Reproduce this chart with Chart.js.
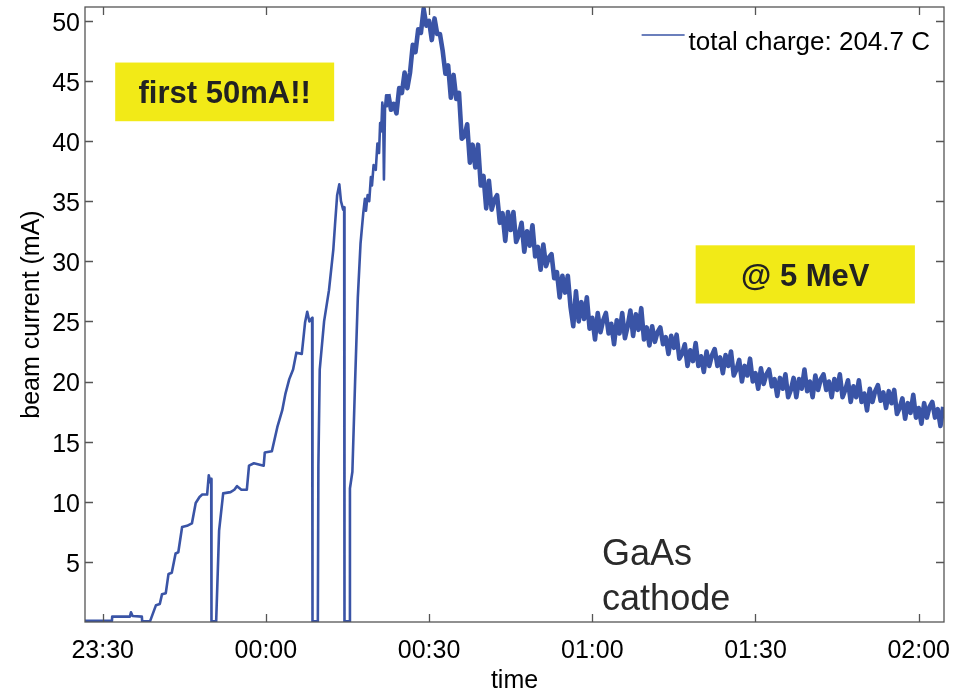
<!DOCTYPE html>
<html>
<head>
<meta charset="utf-8">
<script src="https://cdn.jsdelivr.net/npm/chart.js@4.4.1/dist/chart.umd.min.js"></script>
<style>
  html, body { margin: 0; padding: 0; background: #fff; }
  #wrap { width: 963px; height: 692px; }
</style>
</head>
<body>
<div id="wrap"><canvas id="beamChart" width="963" height="692"></canvas></div>
<script>
// time is minutes after midnight (negative = before 00:00), current in mA
const riseTimes = [-33.25, -28.3, -28.25, -25.0, -24.8, -24.5, -22.8, -22.74, -21.3, -20.2,
  -19.5, -19.1, -18.4, -17.9, -17.3, -16.6, -16.1, -15.4, -14.5, -13.6,
  -12.9, -12.2, -11.7, -10.8, -10.5, -10.2, -10.05, -10.0, -9.14, -8.6,
  -7.85, -6.5, -5.8, -5.3, -4.5, -3.5, -3.1, -2.2, -0.4, -0.2,
  1.1, 2.1, 3.0, 3.6, 4.3, 5.0, 5.6, 6.6, 7.2, 7.6,
  8.0, 8.5, 8.57, 9.55, 9.65, 9.9, 10.7, 11.6, 12.4, 12.7,
  13.1, 13.5, 13.8, 14.2, 14.39, 14.45, 15.4, 15.45, 15.9, 16.4,
  16.9, 17.4, 17.9, 18.2, 18.4, 18.7, 19.0, 19.3, 19.5, 19.8,
  20.2, 20.5, 20.8, 21.0, 21.2, 21.4, 21.55, 21.7, 21.9, 22.1,
  22.3];
const riseCurrent = [0.1, 0.1, 0.45, 0.45, 0.8, 0.5, 0.45, 0.05, 0.05, 1.4,
  1.5, 2.3, 2.4, 4.0, 4.1, 5.7, 5.8, 7.9, 8.0, 8.2,
  9.9, 10.4, 10.6, 10.6, 12.2, 11.6, 11.9, 0.05, 0.05, 7.6,
  10.7, 10.8, 11.0, 11.3, 11.0, 11.0, 13.0, 13.2, 13.0, 14.1,
  14.2, 16.2, 17.6, 19.0, 20.2, 21.0, 22.4, 22.3, 24.9, 25.8,
  25.0, 25.3, 0.05, 0.05, 13.0, 21.0, 25.0, 27.6, 31.0, 33.0,
  35.5, 36.4, 35.0, 34.3, 34.5, 0.05, 0.05, 11.1, 12.5, 20.0,
  27.0, 31.5, 34.0, 35.2, 34.2, 35.5, 35.0, 37.0, 36.3, 38.0,
  37.6, 39.8, 39.0, 41.5, 40.8, 43.2, 42.6, 36.8, 42.8, 43.8,
  42.9];

const decayTimes = [22.5, 23, 23.5, 24, 24.5, 25, 25.5, 26, 26.5, 27,
  27.5, 28, 28.5, 29, 29.5, 30, 30.5, 31, 31.5, 32,
  32.5, 33, 33.5, 34, 34.5, 35, 35.5, 36, 36.5, 37,
  37.5, 38, 38.5, 39, 39.5, 40, 40.5, 41, 41.5, 42,
  42.5, 43, 43.5, 44, 44.5, 45, 45.5, 46, 46.5, 47,
  47.5, 48, 48.5, 49, 49.5, 50, 50.5, 51, 51.5, 52,
  52.5, 53, 53.5, 54, 54.5, 55, 55.5, 56, 56.5, 57,
  57.5, 58, 58.5, 59, 59.5, 60, 60.5, 61, 61.5, 62,
  62.5, 63, 63.5, 64, 64.5, 65, 65.5, 66, 66.5, 67,
  67.5, 68, 68.5, 69, 69.5, 70, 70.5, 71, 71.5, 72,
  72.5, 73, 73.5, 74, 74.5, 75, 75.5, 76, 76.5, 77,
  77.5, 78, 78.5, 79, 79.5, 80, 80.5, 81, 81.5, 82,
  82.5, 83, 83.5, 84, 84.5, 85, 85.5, 86, 86.5, 87,
  87.5, 88, 88.5, 89, 89.5, 90, 90.5, 91, 91.5, 92,
  92.5, 93, 93.5, 94, 94.5, 95, 95.5, 96, 96.5, 97,
  97.5, 98, 98.5, 99, 99.5, 100, 100.5, 101, 101.5, 102,
  102.5, 103, 103.5, 104, 104.5, 105, 105.5, 106, 106.5, 107,
  107.5, 108, 108.5, 109, 109.5, 110, 110.5, 111, 111.5, 112,
  112.5, 113, 113.5, 114, 114.5, 115, 115.5, 116, 116.5, 117,
  117.5, 118, 118.5, 119, 119.5, 120, 120.5, 121, 121.5, 122,
  122.5, 123, 123.5, 124, 124.5];
const decayCurrent = [43.9, 42.6, 43.1, 42.3, 44.4, 44.0, 45.7, 44.4, 45.7, 48.0,
  47.4, 49.3, 49.0, 51.0, 49.6, 50.0, 48.4, 50.2, 48.9, 48.9,
  47.5, 45.6, 46.3, 43.6, 45.5, 43.5, 44.0, 40.2, 40.4, 41.4,
  38.2, 39.7, 37.8, 39.7, 36.3, 37.1, 34.4, 36.7, 34.3, 35.1,
  35.5, 33.2, 34.0, 31.7, 34.1, 32.6, 34.1, 31.6, 32.2, 33.2,
  30.8, 32.5, 31.3, 33.0, 30.4, 31.2, 29.3, 31.4, 29.6, 30.3,
  30.6, 28.6, 29.1, 27.0, 28.8, 27.4, 28.8, 26.2, 24.6, 27.5,
  25.0, 26.6, 25.2, 27.0, 24.4, 25.3, 23.5, 25.7, 24.1, 25.1,
  25.7, 24.0, 24.8, 23.1, 25.1, 24.0, 25.7, 23.6, 24.6, 25.9,
  23.8, 25.6, 24.3, 26.1, 23.5, 24.5, 23.0, 24.6, 23.3, 24.1,
  24.5, 23.1, 23.7, 22.3, 23.8, 22.8, 23.9, 21.9, 22.3, 23.1,
  21.3, 22.6, 21.7, 23.2, 21.3, 22.1, 20.8, 22.5, 21.3, 22.2,
  22.7, 21.3, 22.0, 20.7, 22.2, 21.3, 22.5, 20.5, 21.0, 21.8,
  20.0, 21.3, 20.5, 21.9, 20.0, 20.7, 19.4, 21.1, 19.8, 20.6,
  21.0, 19.6, 20.2, 18.8, 20.3, 19.4, 20.6, 18.7, 19.3, 20.3,
  18.7, 20.2, 19.4, 21.0, 19.2, 20.0, 18.7, 20.5, 19.3, 20.2,
  20.6, 19.3, 20.0, 18.7, 20.2, 19.3, 20.6, 18.7, 19.3, 20.1,
  18.3, 19.6, 18.7, 20.1, 18.3, 19.0, 17.6, 19.4, 18.3, 19.2,
  19.7, 18.4, 19.1, 17.8, 19.2, 18.2, 19.3, 17.3, 17.8, 18.6,
  16.9, 18.2, 17.4, 18.9, 17.0, 17.8, 16.5, 18.2, 17.0, 17.9,
  18.3, 17.0, 17.7, 16.3, 17.9];

const timeTicks = [-30, 0, 30, 60, 90, 120];
const timeLabels = ['23:30', '00:00', '00:30', '01:00', '01:30', '02:00'];
const currentTicks = [5, 10, 15, 20, 25, 30, 35, 40, 45, 50];
const seriesLabel = 'total charge: 204.7 C';

const FONT = '"Liberation Sans", Arial, Helvetica, sans-serif';
const LINE_BLUE = '#3a54a6';
const FRAME = '#555555';

const allTimes = riseTimes.concat(decayTimes);
const allCurrent = riseCurrent.concat(decayCurrent);
const points = allTimes.map((t, i) => ({ x: t, y: allCurrent[i] }));
const noisyFrom = decayTimes[0];

// boxes and labels placed in data units (minutes, mA)
const notes = [
    { text: 'first 50mA!!', x0: -27.7, x1: 12.55, y0: 41.65, y1: 46.53 },
    { text: '@ 5 MeV', x0: 79.0, x1: 119.3, y0: 26.49, y1: 31.33 }
];
const cathodeText = { lines: ['GaAs', 'cathode'], x: 61.8, y: [4.74, 1.01] };

const notesPlugin = {
    id: 'notes',
    afterDatasetsDraw(chart) {
        const { ctx, scales: { x, y } } = chart;
        ctx.save();
        notes.forEach(n => {
            const l = x.getPixelForValue(n.x0), r = x.getPixelForValue(n.x1);
            const t = y.getPixelForValue(n.y1), b = y.getPixelForValue(n.y0);
            ctx.fillStyle = '#f2ea17';
            ctx.fillRect(l, t, r - l, b - t);
            ctx.fillStyle = '#222';
            ctx.font = 'bold 31px ' + FONT;
            ctx.textAlign = 'center';
            ctx.textBaseline = 'alphabetic';
            ctx.fillText(n.text, (l + r) / 2, (t + b) / 2 + 31 * 0.36);
        });
        ctx.fillStyle = '#2a2a2a';
        ctx.font = '36px ' + FONT;
        ctx.textAlign = 'left';
        ctx.textBaseline = 'alphabetic';
        cathodeText.lines.forEach((s, i) => {
            ctx.fillText(s, x.getPixelForValue(cathodeText.x), y.getPixelForValue(cathodeText.y[i]));
        });
        ctx.restore();
    }
};

// closed box with inward ticks on all four sides, plus the legend entry
const framePlugin = {
    id: 'frame',
    afterDraw(chart) {
        const { ctx, chartArea: a, scales: { x, y } } = chart;
        const len = 8;
        ctx.save();
        ctx.strokeStyle = FRAME;
        ctx.lineWidth = 1.3;
        ctx.strokeRect(a.left, a.top, a.right - a.left, a.bottom - a.top);
        ctx.beginPath();
        timeTicks.forEach(v => {
            const px = Math.round(x.getPixelForValue(v)) + 0.5;
            ctx.moveTo(px, a.bottom); ctx.lineTo(px, a.bottom - len);
            ctx.moveTo(px, a.top); ctx.lineTo(px, a.top + len);
        });
        currentTicks.forEach(v => {
            const py = Math.round(y.getPixelForValue(v)) + 0.5;
            ctx.moveTo(a.left, py); ctx.lineTo(a.left + len, py);
            ctx.moveTo(a.right, py); ctx.lineTo(a.right - len, py);
        });
        ctx.stroke();

        // legend: short line sample then the label, top right inside the box
        ctx.font = '26px ' + FONT;
        ctx.fillStyle = '#000';
        ctx.textAlign = 'right';
        ctx.textBaseline = 'alphabetic';
        const textRight = a.right - 14;
        const baseY = a.top + 43;
        ctx.fillText(seriesLabel, textRight, baseY);
        const textLeft = textRight - ctx.measureText(seriesLabel).width;
        ctx.strokeStyle = LINE_BLUE;
        ctx.lineWidth = 1.6;
        ctx.beginPath();
        ctx.moveTo(textLeft - 47, a.top + 28);
        ctx.lineTo(textLeft - 4, a.top + 28);
        ctx.stroke();
        ctx.restore();
    }
};

new Chart(document.getElementById('beamChart'), {
    type: 'line',
    data: {
        datasets: [{
            label: seriesLabel,
            data: points,
            borderColor: LINE_BLUE,
            backgroundColor: LINE_BLUE,
            borderWidth: 2.6,
            borderJoinStyle: 'round',
            pointRadius: 0,
            tension: 0,
            fill: false,
            segment: {
                // the noisy decay is drawn as a denser ribbon
                borderWidth: c => (c.p0.parsed.x >= noisyFrom ? 4.6 : 2.6)
            }
        }]
    },
    options: {
        responsive: false,
        animation: false,
        events: [],
        layout: { padding: { top: 7, right: 19, left: 0, bottom: 0 } },
        plugins: {
            legend: { display: false },
            tooltip: { enabled: false }
        },
        scales: {
            x: {
                type: 'linear',
                min: -33.25,
                max: 124.65,
                afterBuildTicks(scale) {
                    scale.ticks = timeTicks.map(v => ({ value: v }));
                },
                afterFit(scale) {
                    scale.height = 70;
                    scale.paddingLeft = 0;
                    scale.paddingRight = 0;
                },
                ticks: {
                    color: '#000',
                    font: { family: FONT, size: 25 },
                    padding: 14,
                    maxRotation: 0,
                    autoSkip: false,
                    callback(v) { return timeLabels[timeTicks.indexOf(v)]; }
                },
                grid: { display: false, drawTicks: false },
                border: { display: false },
                title: {
                    display: true,
                    text: 'time',
                    color: '#000',
                    font: { family: FONT, size: 25, lineHeight: 1 },
                    padding: { top: 0, bottom: -2 }
                }
            },
            y: {
                type: 'linear',
                min: 0,
                max: 51.15,
                afterBuildTicks(scale) {
                    scale.ticks = currentTicks.map(v => ({ value: v }));
                },
                afterFit(scale) {
                    scale.width = 85;
                    scale.paddingTop = 0;
                    scale.paddingBottom = 0;
                },
                ticks: {
                    color: '#000',
                    font: { family: FONT, size: 25 },
                    padding: 5,
                    labelOffset: 3,
                    autoSkip: false
                },
                grid: { display: false, drawTicks: false },
                border: { display: false },
                title: {
                    display: true,
                    text: 'beam current (mA)',
                    color: '#000',
                    font: { family: FONT, size: 25, lineHeight: 1 },
                    padding: { top: 20, bottom: 0 }
                }
            }
        }
    },
    plugins: [notesPlugin, framePlugin]
});
</script>
</body>
</html>
